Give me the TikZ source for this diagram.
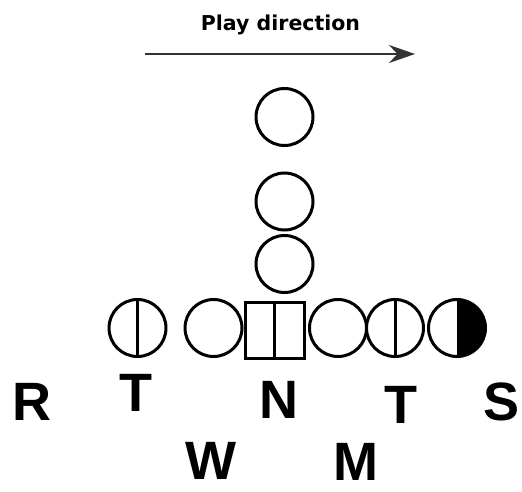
\documentclass[tikz,border=0pt]{standalone}
\usepackage{fontspec}
\setmainfont{Liberation Sans}
\newfontfamily\dirfont{DejaVu Sans}
\usepackage{tikz}
\usetikzlibrary{arrows.meta, positioning}

\begin{document}
\begin{tikzpicture}[x=1pt, y=-1pt,
    man/.style={circle, draw, line width=3pt, minimum size=57pt, inner sep=0pt},
    snap/.style={rectangle, draw, line width=3pt, minimum width=59pt, minimum height=56pt, inner sep=0pt},
    split/.style={line width=3pt},
    halfman/.style={man, path picture={\fill (path picture bounding box.north) rectangle (path picture bounding box.south east);}},
    defender/.style={font=\fontsize{54}{54}\selectfont\bfseries, inner sep=0pt},
    arr/.style={-{Stealth[length=26pt, width=18pt]}, line width=2pt, draw=black!80},
]
\useasboundingbox (0,0) rectangle (522,492);

% play direction
\node[font=\dirfont\bfseries\fontsize{20.5}{22}\selectfont, inner sep=0pt] (dir) at (280.5,25) {Play direction};
\coordinate (dirA) at (145,54);
\coordinate (dirB) at (415,54);
\draw[arr] (dirA) -- (dirB);

% backfield
\node[man] (qb) at (284.5,117) {};
\node[man] (hb) at (284.5,201.5) {};
\node[man] (fb) at (284.5,264) {};

% line
\node[man] (lt) at (137.5,328) {};
\node[man] (lg) at (213.5,328) {};
\node[snap] (ctr) at (274.5,330) {};
\node[man] (rg) at (338,328) {};
\node[man] (rt) at (395,328) {};
\node[halfman] (te) at (457,328) {};

\draw[split] (lt.north) -- (lt.south);
\draw[split] (ctr.north) -- (ctr.south);
\draw[split] (rt.north) -- (rt.south);

% defense
\node[defender] (dR) at (32,402) {R};
\node[defender] (dT1) at (136,393) {T};
\node[defender] (dN) at (279,400) {N};
\node[defender] (dT2) at (401,405) {T};
\node[defender] (dS) at (502,402) {S};
\node[defender] (dW) at (211,461) {W};
\node[defender] (dM) at (356,462) {M};
\end{tikzpicture}
\end{document}
